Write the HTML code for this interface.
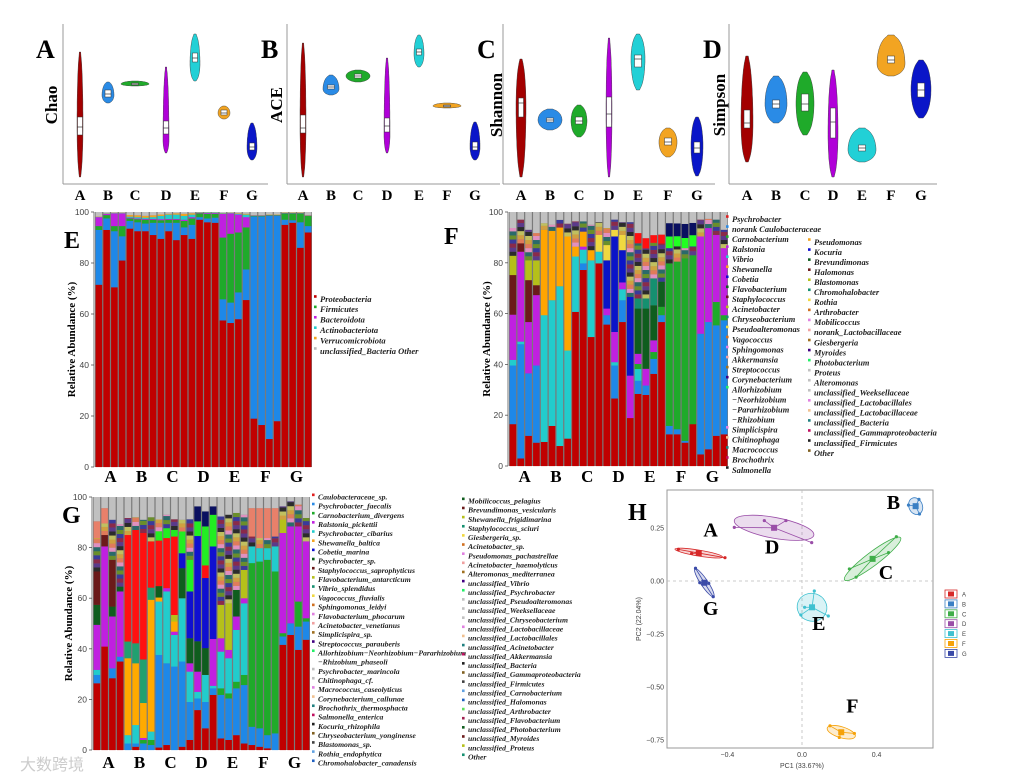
<!DOCTYPE html>
<html><head><meta charset="utf-8">
<style>
html,body{margin:0;padding:0;background:#fff;width:1015px;height:780px;overflow:hidden}
svg{display:block}
.pl{font-family:"Liberation Serif",serif;font-weight:bold}
.lg{font-family:"Liberation Serif",serif;font-weight:bold;font-style:italic;fill:#222}
.tk{font-family:"Liberation Sans",sans-serif;fill:#444}
</style></head>
<body>
<svg id="fig" width="1015" height="780" viewBox="0 0 1015 780" xmlns="http://www.w3.org/2000/svg">
<text x="20" y="770" font-family="Liberation Sans, Noto Sans CJK SC, sans-serif" font-size="16" fill="#ccc">大数跨境</text>
</svg>
<script>
// ---------- Violin data (index units) ----------
const groups = ["A","B","C","D","E","F","G"];
const chaoMax=[132,102,103,117,150,78,61], chaoMin=[7,81,98,31,103,65,24], chaoQ1=[49,87,99,50,122,69,34], chaoMed=[57,90,100,56,126,71,37], chaoQ3=[67,94,101,63,131,74,41], chaoMode=[60,89,100,45,120,71,36];
const aceMax=[141,109,114,126,149,81,62], aceMin=[7,89,102,31,117,76,24], aceQ1=[51,95,106,52,129,77,34], aceMed=[56,97,108,58,132,78,37], aceQ3=[69,99,110,66,135,79,42], aceMode=[60,95,108,50,130,78,37];
const shanMax=[125,75,79,146,150,56,67], shanMin=[7,54,47,7,94,27,8], shanQ1=[67,62,60,57,117,39,31], shanMed=[81,64,63,70,125,42,36], shanQ3=[86,66,67,87,129,46,42], shanMode=[77,64,63,70,125,42,38];
const simpMax=[128,108,112,114,56,149,124], simpMin=[22,61,49,7,22,108,66], simpQ1=[56,76,73,46,33,121,87], simpMed=[61,80,80,62,36,124,94], simpQ3=[74,84,90,76,39,128,101], simpMode=[60,80,80,50,34,120,94];
const violinHalfWidthPx=[[3,6,14,3,5,6,5],[3,8,12,3,5,14,5],[5,12,8,3,7,9,6],[6,11,9,5,14,14,10]];
const groupColors=["#a30000","#2a8be6","#1faa2a","#b000d8","#22d0d6","#f2a422","#0a16c8"];

// ---------- Panel E (phylum) ----------
const eProteobacteria=[71.5,93,70.5,81,93.5,92.5,92.5,91,89.5,92.5,89,91,89.5,97,96,95.8,57.5,56.5,58,65.5,19,16.5,11,18,95,95.8,86,92];
const eUnlabeledBlue=[21.5,4.5,22,9.5,3,3.5,3,4.8,6.3,3.3,6.8,3,5.5,1,1.5,2,8.3,8,10.5,12,79.3,81.8,87.5,80.5,2,1,10,2.5];
const eFirmicutes=[1.5,1.3,2,4,1,1.2,1.5,1.2,1,1.2,1.2,2.5,2.5,1.5,1.8,1.5,24.2,27,23.5,16.5,0.2,0.2,0.2,0.2,2.5,2.7,3.5,4];
const eBacteroidota=[3.5,0.5,5,5,0.3,0.3,0.3,0.3,0.4,0.3,0.3,0.5,0.5,0.2,0.3,0.3,9.3,8,7,4,0.1,0.1,0.1,0.1,0.1,0.1,0.1,0.1];
const eActinobacteriota=[0.1,0.1,0.1,0.1,0.4,0.5,0.5,0.7,1.3,1.7,1.7,1.5,1,0.1,0.2,0.2,0.2,0.1,0.3,1,0.1,0.1,0.1,0.1,0.1,0.1,0.1,0.1];
const eVerrucomicrobiota=[0.1,0.1,0.1,0.1,0.6,0.7,0.7,0.7,0.5,0.3,0.5,0.8,0.5,0.1,0.1,0.1,0.1,0.1,0.2,0.3,0.1,0.1,0.1,0.1,0.1,0.1,0.1,0.1];
const eSeries=[eProteobacteria,eUnlabeledBlue,eFirmicutes,eBacteroidota,eActinobacteriota,eVerrucomicrobiota];
const eColors=["#c00000","#1e88e8","#1faa2a","#c020e0","#22cccc","#f2a422"];
const eLegend=["Proteobacteria","Firmicutes","Bacteroidota","Actinobacteriota","Verrucomicrobiota","unclassified_Bacteria Other"];
const eLegendColors=["#c00000","#1faa2a","#c020e0","#22cccc","#f2a422","#bbbbbb"];

// ---------- Panel F (genus) ----------
const fRed=[16.5,3,11.9,9.2,9.5,15.8,7.9,10.8,60.7,77.2,50.8,79.8,55.7,26.6,56.7,18.9,28.4,28,36.3,56.7,12.5,12.5,9.2,16.5,4.6,6.6,11.9,12.5];
const fBlue=[23.1,45,24.6,30.4,0,0,0,0,0,2.6,0,0,3.7,13,8.6,0,5.2,3.7,5.9,2.7,3.3,2,0.7,0,47.5,50.1,43.5,44.9];
const fCyan=[2.2,1,0,0,49.9,49.5,62.9,34.7,21.8,5.4,30.2,4.6,0,1.3,4.3,0,4.6,0,0,0,0,0,0,0,0,0,0,0];
const fGreen=[0,0,0,0,0,0,0,0,0,0,0,0,0,0,0,0,2,0,2.7,3.3,64,66,71.9,66.5,0,0,9.2,2];
const fMagenta=[17.8,35.4,20.2,27.7,0,0,0,0,0,1.2,0,0,2.6,11.9,2.7,16.7,4,6.6,4.6,0,0,0,0,0,38.3,37,26.4,26.4];
const fOrange=[0,0,0,0,33.6,27.3,23.1,44.9,3.9,5.9,4,0,0,0,0,0,0,0,0,0,0,0,0,0,0,0,0,0];
const fMaroon=[15.6,3.3,16.5,3.9,0,0,0,0,0,0,0,0,0,0,0,0,0,0,0,0,0,0,0,0,0,0,0,0];
const fOlive=[7.6,0,7.8,9.8,0,0,0,0,0,0,0,0,0,0,0,0,0,0,0,0,0,0,0,0,0,0,0,0];
const fDarkBlue=[0,0,0,0,0,0,0,0,0,0,0,0,19,37.6,12.7,31,0,0,0,0,0,0,0,0,0,0,0,0];
const fYellow=[0,0,0,0,0,0,0,0,0,0,0,6.6,6,2.6,6,0,0,0,0,0,0,0,0,0,0,0,0,0];
const fDarkGreen=[0,0,0,0,0,0,0,0,0,0,0,0,0,0,0,0,17.8,23.7,13.8,9.9,0,0,0,0,0,0,0,0];
const fTeal=[0,0,0,0,0,0,0,0,0,0,0,0,0,0,0,0,4,4,10.6,0,0,0,0,0,0,0,0,0];
const fMisc=[10.9,9.3,12,10.7,2.6,2.4,3,5,9.9,4,10,5,6.7,4,5,29.4,21.7,19.7,14,15,6,6,4,3.5,6.6,3.6,6,7.2];
const fBrightRed=[0,0,0,0,0,0,0,0,0,0,0,0,0,0,0,0,4,4,3,3.5,0,0,0,0,0,0,0,0];
const fBrightGreen=[0,0,0,0,0,0,0,0,0,0,0,0,0,0,0,0,0,0,0,0,4.6,4,4,4.4,0,0,0,0];
const fNavy=[0,0,0,0,0,0,0,0,0,0,0,0,0,0,0,0,0,0,0,0,5.2,5,5.5,4.8,0,0,0,0];
const fSeries=[fRed,fBlue,fCyan,fGreen,fMagenta,fOrange,fMaroon,fOlive,fDarkBlue,fYellow,fDarkGreen,fTeal,fMisc,fBrightRed,fBrightGreen,fNavy];
const fColors=["#c00000","#1e88e8","#22cccc","#1faa2a","#c020e0","#ffa500","#6b1a1a","#b5c01a","#0a14c8","#f0d840","#0f5d1e","#159070","MISC","#ff1010","#22ff22","#0a1060"];
const fLegend1=["Psychrobacter","norank Caulobacteraceae","Carnobacterium","Ralstonia","Vibrio","Shewanella","Cobetia","Flavobacterium","Staphylococcus","Acinetobacter","Chryseobacterium","Pseudoalteromonas","Vagococcus","Sphingomonas","Akkermansia","Streptococcus","Corynebacterium","Allorhizobium","\u2212Neorhizobium","\u2212Pararhizobium","\u2212Rhizobium","Simplicispira","Chitinophaga","Macrococcus","Brochothrix","Salmonella"];
const fLegend2=["Pseudomonas","Kocuria","Brevundimonas","Halomonas","Blastomonas","Chromohalobacter","Rothia","Arthrobacter","Mobilicoccus","norank_Lactobacillaceae","Giesbergeria","Myroides","Photobacterium","Proteus","Alteromonas","unclassified_Weeksellaceae","unclassified_Lactobacillales","unclassified_Lactobacillaceae","unclassified_Bacteria","unclassified_Gammaproteobacteria","unclassified_Firmicutes","Other"];

// ---------- Panel G (species) ----------
const gRed=[26.4,40.9,28.4,35,0,1.3,0,0,1,2,0,1.3,4,15.8,8.6,21.8,4.6,4,5.9,2.6,2,1.3,0.7,0,41.6,45.5,39.6,43.6];
const gBlue=[3.3,0,3.9,1.9,2.6,1.3,2.6,2,36.6,32.3,33,33.7,15,4.6,10.4,2.6,17.2,16.4,18.5,23.1,7.2,7.3,5.2,6.6,3.3,4.6,9.2,7.2];
const gGreen=[0,0,0,0,0,0,1.4,2,0,0,0,0,0,0,0,0,2.6,2,2.6,4,64.7,65.9,69.3,64,1.3,0,9.9,1.3];
const gCyan=[2,0,0,0,3.3,7.3,0,3.3,21.1,28.4,12.5,25,12,2.6,10.7,1,14.5,13.9,20.5,28.3,6.6,5.3,4.6,9.9,0,0,0,0];
const gMagenta=[17.8,39.6,20.5,25.8,0,0,0.8,0,0,1.3,1.3,0,3.3,8,0,18.5,5.3,3.3,5.3,2,0,0,0,0,39.6,38.3,29.7,30.4];
const gOrange=[0,0,0,0,30.4,24.4,13.8,52.1,1.6,0,4,0,0,0,0,0,0,0,0,0,0,0,0,0,0,0,0,0];
const gTeal=[0,0,0,0,6.6,7.9,17.2,4.8,0,0,0,0,0,0,0,0,0,0,0,0,0,0,0,0,0,0,0,0];
const gDarkGreen=[7.9,0,3.9,1.9,0,0,0,0,4.5,0,0,11.9,9.9,12,10.6,0,0,0,10.5,0,0,0,0,0,0,0,0,0];
const gDarkBlue=[0,0,0,0,0,0,0,0,0,0,0,5.9,18.5,41.6,27.7,36.6,0,0,0,0,0,0,0,0,0,0,0,0];
const gOlive=[0,0,0,0,0,0,0,0,0,0,2.6,0,0,0,0,0,13.2,18.4,0,11.2,0,0,0,0,5.3,0,0,0];
const gMaroon=[13.2,4.5,18.5,0,0,0,0,0,0,0,0,0,0,0,0,0,0,0,0,0,0,0,0,0,0,0,0,0];
const gBrightRed=[0,0,0,0,42.1,44.8,50,18.3,18,19.8,31,0,0,0,5,0,0,0,0,0,0,0,0,0,0,0,0,0];
const gLime=[0,0,0,0,0,0,0,0,3.7,3.9,2.6,8.6,12.5,5.8,15.4,12.5,0,0,0,0,0,0,0,0,0,0,0,0];
const gNavy=[0,0,0,0,0,0,0,0,0,0,0,0,0,5.9,5.9,3.3,0,0,0,0,0,0,0,0,0,0,0,0];
const gMisc=[13.2,4.6,15.8,24.7,6.7,5,5.2,9.5,4.6,5.3,4.2,4.6,16,0,0,0,34.9,35,30.4,21.8,3.9,4,4,3.9,5.2,9.9,8.6,9.2];
const gSalmon=[6.6,6,0,0,0,0,0,0,0,0,0,0,0,0,0,0,0,0,0,0,11.2,11.8,11.8,11.2,0,0,0,0];
const gSeries=[gRed,gBlue,gGreen,gCyan,gMagenta,gOrange,gTeal,gDarkGreen,gDarkBlue,gOlive,gMaroon,gBrightRed,gLime,gNavy,gMisc,gSalmon];
const gColors=["#c00000","#1e88e8","#1faa2a","#22cccc","#c020e0","#ffaa00","#20a070","#0f5d1e","#1010d0","#b5c01a","#6b1a1a","#ff1010","#22ee22","#0a1060","MISC","#e8806a"];
const gLegend1=["Caulobacteraceae_sp.","Psychrobacter_faecalis","Carnobacterium_divergens","Ralstonia_pickettii","Psychrobacter_cibarius","Shewanella_baltica","Cobetia_marina","Psychrobacter_sp.","Staphylococcus_saprophyticus","Flavobacterium_antarcticum","Vibrio_splendidus","Vagococcus_fluvialis","Sphingomonas_leidyi","Flavobacterium_phocarum","Acinetobacter_venetianus","Simplicispira_sp.","Streptococcus_parauberis","Allorhizobium\u2212Neorhizobium\u2212Pararhizobium","\u2212Rhizobium_phaseoli","Psychrobacter_marincola","Chitinophaga_cf.","Macrococcus_caseolyticus","Corynebacterium_callunae","Brochothrix_thermosphacta","Salmonella_enterica","Kocuria_rhizophila","Chryseobacterium_yonginense","Blastomonas_sp.","Rothia_endophytica","Chromohalobacter_canadensis"];
const gLegend2=["Mobilicoccus_pelagius","Brevundimonas_vesicularis","Shewanella_frigidimarina","Staphylococcus_sciuri","Giesbergeria_sp.","Acinetobacter_sp.","Pseudomonas_pachastrellae","Acinetobacter_haemolyticus","Alteromonas_mediterranea","unclassified_Vibrio","unclassified_Psychrobacter","unclassified_Pseudoalteromonas","unclassified_Weeksellaceae","unclassified_Chryseobacterium","unclassified_Lactobacillaceae","unclassified_Lactobacillales","unclassified_Acinetobacter","unclassified_Akkermansia","unclassified_Bacteria","unclassified_Gammaproteobacteria","unclassified_Firmicutes","unclassified_Carnobacterium","unclassified_Halomonas","unclassified_Arthrobacter","unclassified_Flavobacterium","unclassified_Photobacterium","unclassified_Myroides","unclassified_Proteus","Other"];
const legendPalette=["#e02020","#2a8be6","#1faa2a","#c020e0","#22cccc","#f2a422","#1010d0","#0f5d1e","#6b1a1a","#b5c01a","#159070","#f0d840","#d07020","#e080e0","#f0a0a0","#a07020","#400080","#22ee66","#c0c0c0","#c0c0c0","#c0c0c0","#e080e0","#f0c090","#208080","#c01060","#202020","#806020","#404040","#60a0e0","#2060c0","#60e060","#a02050"];

// ---------- Panel H (PCoA) ----------
const pcaGroups=["A","B","C","D","E","F","G"];
const pcaX=[[-0.663,-0.592,-0.413,-0.547],[0.571,0.627,0.630],[0.254,0.290,0.464,0.506],[-0.363,-0.202,-0.086,0.052],[0.066,-0.006,0.141,0.014],[0.150,0.200,0.281],[-0.571,-0.548,-0.476,-0.500]];
const pcaY=[[0.149,0.130,0.110,0.138],[0.358,0.385,0.316],[0.057,0.018,0.134,0.209],[0.253,0.285,0.285,0.181],[-0.047,-0.160,-0.165,-0.124],[-0.683,-0.738,-0.719],[0.060,-0.008,-0.074,-0.011]];
const pcaXTicks=[-0.4,0.0,0.4];
const pcaYTicks=[0.25,0.00,-0.25,-0.50,-0.75];
const pcaColors=["#d62828","#3a7fc4","#3fae49","#9a4ea8","#3fc1d0","#f5a20a","#3a4aa8"];
const pcaLabelPos=[[-0.49,0.21],[0.49,0.34],[0.45,0.01],[-0.16,0.13],[0.09,-0.23],[0.27,-0.62],[-0.49,-0.16]];

const NS="http://www.w3.org/2000/svg";
const svg=document.getElementById("fig");
function mk(tag,attrs,parent){const e=document.createElementNS(NS,tag);for(const k in attrs)e.setAttribute(k,attrs[k]);(parent||svg).appendChild(e);return e;}
function txt(x,y,s,cls,size,anchor,parent){const t=mk("text",{x:x,y:y,"font-size":size,"text-anchor":anchor||"start"},parent);t.setAttribute("class",cls);t.textContent=s;return t;}

// ---------- Violin panels ----------
const violinPanels=[
 {letter:"A",title:"Chao",ax:63,xs:[80,108,135,166,195,224,252],xend:268,lx:36,ly:58,tx:52,data:[chaoMax,chaoMin,chaoQ1,chaoMed,chaoQ3,chaoMode]},
 {letter:"B",title:"ACE",ax:287,xs:[303,331,358,387,419,447,475],xend:500,lx:261,ly:58,tx:277,data:[aceMax,aceMin,aceQ1,aceMed,aceQ3,aceMode]},
 {letter:"C",title:"Shannon",ax:503,xs:[521,550,579,609,638,668,697],xend:715,lx:477,ly:58,tx:497,data:[shanMax,shanMin,shanQ1,shanMed,shanQ3,shanMode]},
 {letter:"D",title:"Simpson",ax:729,xs:[747,776,805,833,862,891,921],xend:937,lx:703,ly:58,tx:720,data:[simpMax,simpMin,simpQ1,simpMed,simpQ3,simpMode]}
];
const vY=v=>184-v;
violinPanels.forEach((p,pi)=>{
  const g=mk("g",{});
  
  
  const yl=mk("line",{x1:p.ax,y1:24,x2:p.ax,y2:184,stroke:"#999","stroke-width":1},g);
  
  const xl=mk("line",{x1:p.ax,y1:184,x2:p.xend,y2:184,stroke:"#999","stroke-width":1},g);
  
  const L=txt(p.lx,p.ly,p.letter,"pl",26,"start",g);
  
  const T=txt(0,0,p.title,"pl",17,"middle",g);
  T.setAttribute("transform","translate("+(p.tx+5)+",105) rotate(-90)");
  
  const [mx,mn,q1,md,q3,mo]=p.data;
  groups.forEach((gr,i)=>{
    const cx=p.xs[i],hw=violinHalfWidthPx[pi][i];
    let right=[],left=[];
    const N=30;
    for(let k=0;k<=N;k++){
      const v=mx[i]-(mx[i]-mn[i])*k/N;
      let f;
      if(v>=mo[i]){const s=Math.max(mx[i]-mo[i],0.5);f=1-Math.pow((v-mo[i])/s,2);}else{const s=Math.max(mo[i]-mn[i],0.5);f=1-Math.pow((mo[i]-v)/s,2);}
      f=Math.max(f,0.05);const w=hw*Math.sqrt(f);
      right.push((cx+w).toFixed(1)+","+vY(v).toFixed(1));left.unshift((cx-w).toFixed(1)+","+vY(v).toFixed(1));
    }
    const vp=mk("polygon",{points:right.concat(left).join(" "),fill:groupColors[i],stroke:"#333","stroke-width":0.4},g);
    
    const bw=Math.min(7,Math.max(5,hw));
    const bx=mk("rect",{x:cx-bw/2,y:vY(q3[i]),width:bw,height:Math.max(vY(q1[i])-vY(q3[i]),1.5),fill:"#fff",stroke:"#333","stroke-width":0.5},g);
    
    const ml=mk("line",{x1:cx-bw/2,x2:cx+bw/2,y1:vY(md[i]),y2:vY(md[i]),stroke:"#333","stroke-width":0.7},g);
    
    const xt=txt(cx,200,gr,"pl",15,"middle",g);
    
  });
});

// ---------- stacked bar charts ----------
const miscStripes=["#2b2b2b","#e07b5a","#6a8f2a","#5b3a8a","#d0a040","#2a6a6a","#8a2a4a","#c0c060","#e090c0","#3a3a9a"];
function stacked(cfg,series,colors){
  const g=mk("g",{});
  
  
  const n=series[0].length,pitch=(cfg.x1-cfg.x0)/n;
  const ys=v=>cfg.y0-(cfg.y0-cfg.y100)*v/100;
  const bg=mk("rect",{x:cfg.x0,y:ys(100),width:cfg.x1-cfg.x0,height:ys(0)-ys(100),fill:"#7a7a7a"},g);
  
  for(let i=0;i<n;i++){
    const bx=cfg.x0+i*pitch+0.6,bw=pitch-1.2;
    let cum=0;
    series.forEach((s,si)=>{
      const v=s[i];if(!(v>0))return;
      if(colors[si]==="MISC"){
        let c=0,k=i;
        while(c<v){const h=Math.min(1.6,v-c);
          const r=mk("rect",{x:bx,y:ys(cum+c+h),width:bw,height:ys(cum+c)-ys(cum+c+h)+0.1,fill:miscStripes[k%miscStripes.length]},g);
          
          c+=h;k+=3;}
      }else{
        const r=mk("rect",{x:bx,y:ys(cum+v),width:bw,height:ys(cum)-ys(cum+v)+0.1,fill:colors[si]},g);
        
      }
      cum+=v;
    });
    if(cum<100){
      const r=mk("rect",{x:bx,y:ys(100),width:bw,height:ys(cum)-ys(100),fill:"#c0c0c0"},g);
      
    }
  }
  const ax=mk("line",{x1:cfg.x0-1,y1:ys(100),x2:cfg.x0-1,y2:ys(0),stroke:"#555","stroke-width":0.8},g);
  
  [0,20,40,60,80,100].forEach(t=>{
    const tl=mk("line",{x1:cfg.x0-4,x2:cfg.x0-1,y1:ys(t),y2:ys(t),stroke:"#555","stroke-width":0.8},g);
    
    const tt=txt(cfg.x0-6,ys(t)+3,String(t),"tk",8.5,"end",g);
    
  });
  const T=txt(0,0,"Relative Abundance (%)","pl",11,"middle",g);
  T.setAttribute("transform","translate("+cfg.tx+","+((ys(0)+ys(100))/2)+") rotate(-90)");
  
  groups.forEach((gr,k)=>{
    const t=txt(cfg.x0+(4*k+2)*pitch,cfg.ly,gr,"pl",17,"middle",g);
    
  });
  const L=txt(cfg.px,cfg.py,cfg.letter,"pl",24,"start",g);
  
}
stacked({name:"phylum-bar-chart",x0:95,x1:312,y0:467,y100:212,tx:75,ly:482,letter:"E",px:64,py:248},eSeries,eColors);
stacked({name:"genus-bar-chart",x0:509,x1:728,y0:466,y100:212,tx:490,ly:482,letter:"F",px:444,py:244},fSeries,fColors);
stacked({name:"species-bar-chart",x0:93,x1:310,y0:750,y100:497,tx:72,ly:768,letter:"G",px:62,py:523},gSeries,gColors);

function legend(names,colors,x,y0,step,size,name){
  names.forEach((nm,i)=>{
    const cont=nm.charAt(0)==="\u2212";
    if(!cont){const s=mk("rect",{x:x,y:y0+i*step-size*0.45,width:2.6,height:2.6,fill:colors[i%colors.length]});
      }
    const t=txt(x+6,y0+i*step+size*0.33,nm,"lg",size,"start");
    
  });
}
legend(eLegend,eLegendColors,314,299,10.4,8.5,"phylum-legend");
legend(fLegend1,legendPalette,726,219,10.04,8.4,"genus-legend");
legend(fLegend2,legendPalette.slice(5),808,242,10.05,8.4,"genus-legend");
legend(gLegend1,legendPalette,312,497,9.17,7.7,"species-legend");
legend(gLegend2,legendPalette.slice(7),462,501,9.14,7.7,"species-legend");

// ---------- PCoA ----------
(function(){
  const g=mk("g",{});
  
  
  const X0=667,X1=933,Y0=490,Y1=748;
  const xs=v=>802+v*186.5, ys=v=>581-v*212;
  const box=mk("rect",{x:X0,y:Y0,width:X1-X0,height:Y1-Y0,fill:"#fff",stroke:"#999","stroke-width":1},g);
  
  const vl=mk("line",{x1:xs(0),x2:xs(0),y1:Y0,y2:Y1,stroke:"#bbb","stroke-dasharray":"3,3","stroke-width":0.8},g);
  
  const hl=mk("line",{x1:X0,x2:X1,y1:ys(0),y2:ys(0),stroke:"#bbb","stroke-dasharray":"3,3","stroke-width":0.8},g);
  
  pcaXTicks.forEach(t=>{const l=txt(xs(t),757,t.toFixed(1).replace("-","\u2212"),"tk",7,"middle",g);
    });
  pcaYTicks.forEach(t=>{const l=txt(X0-3,ys(t)+2.5,t.toFixed(2).replace("-","\u2212"),"tk",7,"end",g);
    });
  const xt=txt(802,768,"PC1 (33.67%)","tk",7,"middle",g);
  
  const yt=txt(0,0,"PC2 (22.04%)","tk",7,"middle",g);
  yt.setAttribute("transform","translate(641,619) rotate(-90)");
  
  pcaGroups.forEach((gr,i)=>{
    const px=pcaX[i].map(xs),py=pcaY[i].map(ys),n=px.length;
    const mx=px.reduce((a,b)=>a+b)/n,my=py.reduce((a,b)=>a+b)/n;
    let sxx=0,syy=0,sxy=0;for(let k=0;k<n;k++){sxx+=(px[k]-mx)**2;syy+=(py[k]-my)**2;sxy+=(px[k]-mx)*(py[k]-my);}
    sxx/=n;syy/=n;sxy/=n;
    const tr=sxx+syy,det=sxx*syy-sxy*sxy,d=Math.sqrt(Math.max(tr*tr/4-det,0));
    const l1=tr/2+d,l2=tr/2-d,ang=Math.atan2(l1-sxx,sxy||1e-6)*180/Math.PI;
    const rx=Math.max(Math.sqrt(l1)*1.4,5),ry=Math.max(Math.sqrt(Math.max(l2,0))*1.4,3);
    const el=mk("ellipse",{cx:mx,cy:my,rx:rx,ry:ry,transform:"rotate("+(sxy===0?0:ang)+" "+mx+" "+my+")",fill:pcaColors[i],"fill-opacity":0.2,stroke:pcaColors[i],"stroke-width":0.8},g);
    
    for(let k=0;k<n;k++){
      const sp=mk("line",{x1:mx,y1:my,x2:px[k],y2:py[k],stroke:pcaColors[i],"stroke-width":0.8},g);
      
      const pt=mk("circle",{cx:px[k],cy:py[k],r:1.6,fill:pcaColors[i]},g);
      
    }
    const c=mk("rect",{x:mx-3,y:my-3,width:6,height:6,fill:pcaColors[i]},g);
    
    const lb=txt(xs(pcaLabelPos[i][0]),ys(pcaLabelPos[i][1]),gr,"pl",20,"middle",g);
    
    const lgb=mk("rect",{x:945,y:590+i*9.9,width:12,height:8,fill:"#fff",stroke:pcaColors[i],"stroke-width":0.8},g);
    
    const lgd=mk("rect",{x:948,y:591.5+i*9.9,width:6,height:5,fill:pcaColors[i]},g);
    
    const lt=txt(962,596.5+i*9.9,gr,"tk",6,"start",g);
    
  });
  const H=txt(628,520,"H","pl",24,"start",g);
  
})();
</script>
</body></html>
